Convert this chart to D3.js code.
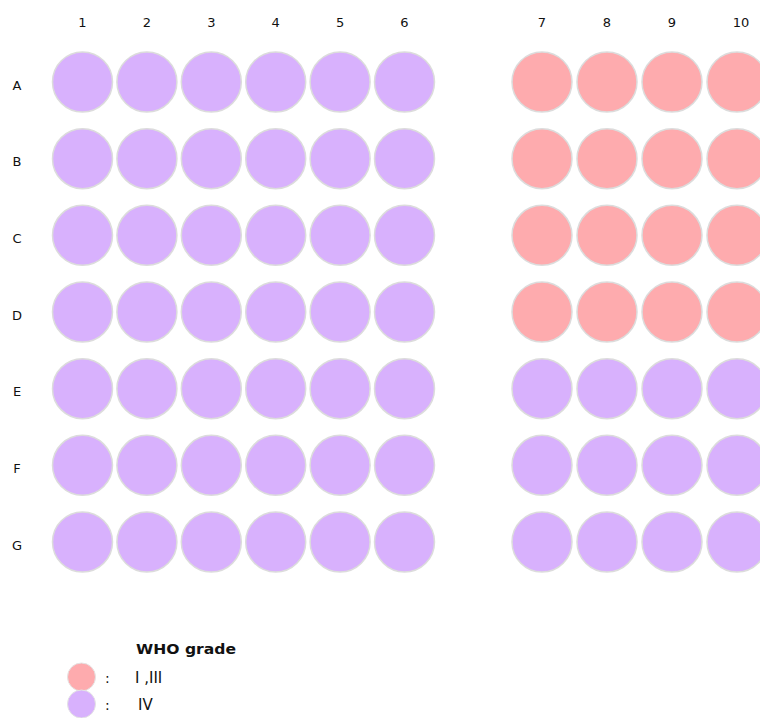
<!DOCTYPE html>
<html>
<head>
<meta charset="utf-8">
<script src="https://cdn.jsdelivr.net/npm/d3@7"></script>
<style>
  html, body { margin: 0; padding: 0; background: #fff; }
  svg { display: block; }
  text { font-family: "DejaVu Sans", Verdana, sans-serif; fill: #111; }
</style>
</head>
<body>
<div id="chart"></div>
<script>
// ---- data ----
const rows = ["A", "B", "C", "D", "E", "F", "G"];
const cols = ["1", "2", "3", "4", "5", "6", "7", "8", "9", "10"];
const gradeA = ["IV", "IV", "IV", "IV", "IV", "IV", "I ,III", "I ,III", "I ,III", "I ,III"];
const gradeB = ["IV", "IV", "IV", "IV", "IV", "IV", "I ,III", "I ,III", "I ,III", "I ,III"];
const gradeC = ["IV", "IV", "IV", "IV", "IV", "IV", "I ,III", "I ,III", "I ,III", "I ,III"];
const gradeD = ["IV", "IV", "IV", "IV", "IV", "IV", "I ,III", "I ,III", "I ,III", "I ,III"];
const gradeE = ["IV", "IV", "IV", "IV", "IV", "IV", "IV", "IV", "IV", "IV"];
const gradeF = ["IV", "IV", "IV", "IV", "IV", "IV", "IV", "IV", "IV", "IV"];
const gradeG = ["IV", "IV", "IV", "IV", "IV", "IV", "IV", "IV", "IV", "IV"];
const grades = [gradeA, gradeB, gradeC, gradeD, gradeE, gradeF, gradeG];
const legendTitle = "WHO grade";
const legendCats = ["I ,III", "IV"];
const legendColors = ["#feabae", "#d8b1fd"];

// ---- layout ----
const W = 760, H = 718;
const svg = d3.select("#chart").append("svg").attr("width", W).attr("height", H);

const x = d3.scaleLinear().domain([1, 6, 7, 10]).range([82.5, 404.5, 542, 737]);
const y = d3.scalePoint().domain(rows).range([82, 542]);
const color = d3.scaleOrdinal().domain(legendCats).range(legendColors);
const R = 30;

const cells = [];
rows.forEach((r, i) => cols.forEach((c, j) => cells.push({ row: r, col: c, grade: grades[i][j] })));

svg.append("g").selectAll("circle").data(cells).join("circle")
  .attr("cx", d => x(+d.col))
  .attr("cy", d => y(d.row))
  .attr("r", R)
  .attr("fill", d => color(d.grade))
  .attr("stroke", "#dcdcdc")
  .attr("stroke-width", 1.5);

// column labels
svg.append("g").selectAll("text").data(cols).join("text")
  .attr("x", d => x(+d) + (+d >= 10 ? 4 : 0))
  .attr("y", 22)
  .attr("text-anchor", "middle")
  .attr("dominant-baseline", "central")
  .style("font-size", "13px")
  .text(d => d);

// row labels
svg.append("g").selectAll("text").data(rows).join("text")
  .attr("x", 17)
  .attr("y", d => y(d) + 3)
  .attr("text-anchor", "middle")
  .attr("dominant-baseline", "central")
  .style("font-size", "13px")
  .text(d => d);

// legend
const lg = svg.append("g");
lg.append("text")
  .attr("x", 136).attr("y", 649)
  .attr("dominant-baseline", "central")
  .attr("textLength", 100).attr("lengthAdjust", "spacingAndGlyphs")
  .style("font-size", "14px").style("font-weight", "bold")
  .text(legendTitle);
const ly = d3.scalePoint().domain(legendCats).range([677, 704]);
const items = lg.selectAll("g.item").data(legendCats).join("g").attr("class", "item");
items.append("circle")
  .attr("cx", 81.5).attr("cy", d => ly(d)).attr("r", 14)
  .attr("fill", d => color(d))
  .attr("stroke", "#e4e4e4").attr("stroke-width", 1);
items.append("text")
  .attr("x", 105).attr("y", d => ly(d) + 1)
  .attr("dominant-baseline", "central")
  .style("font-size", "14px")
  .text(":");
items.append("text")
  .attr("x", (d, i) => i === 0 ? 135 : 138).attr("y", d => ly(d) + 1)
  .attr("dominant-baseline", "central")
  .style("font-size", "15px")
  .text(d => d);
</script>
</body>
</html>
